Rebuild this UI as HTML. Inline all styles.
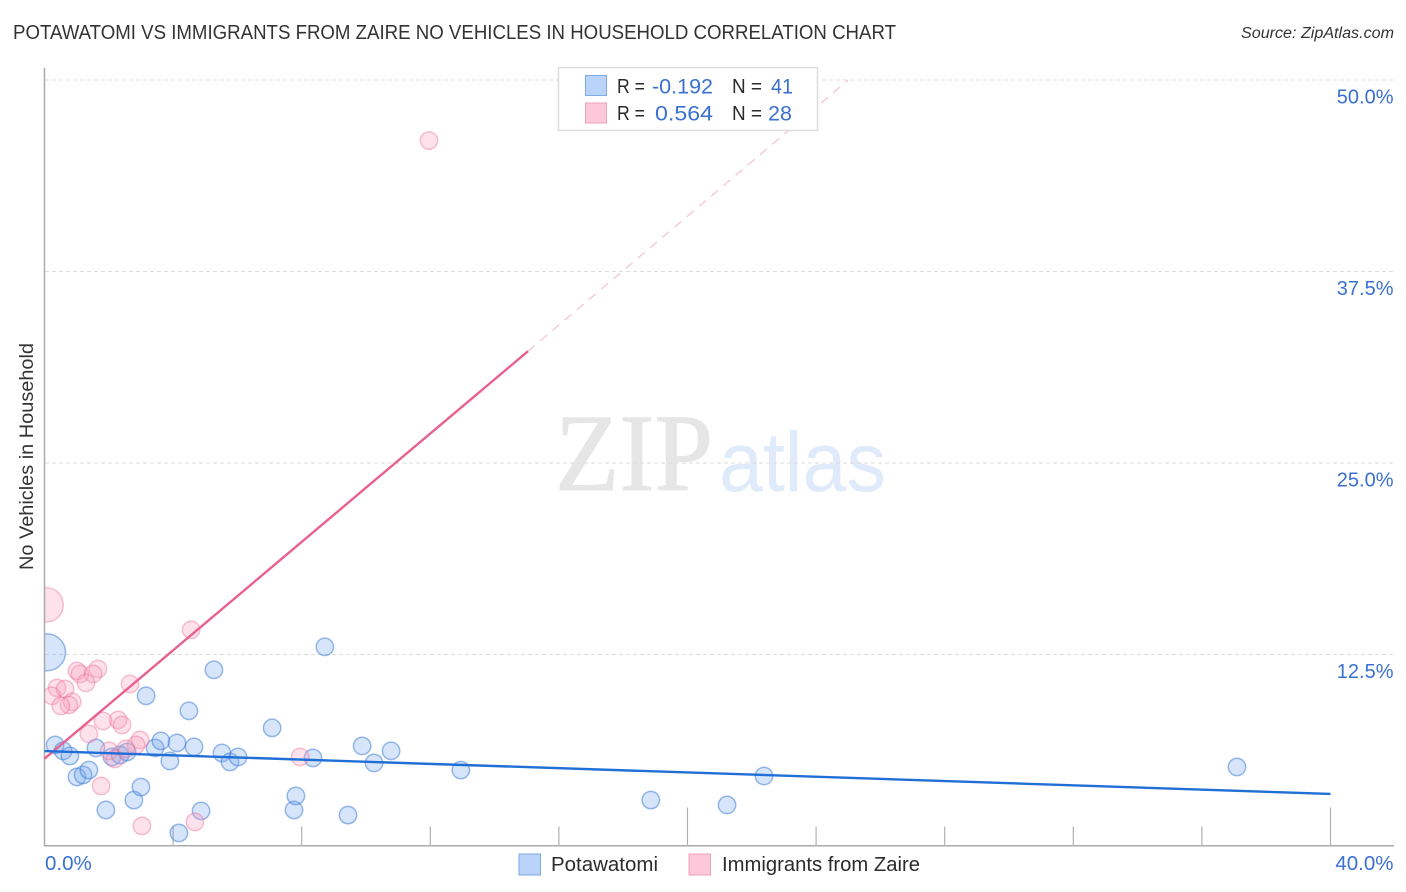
<!DOCTYPE html>
<html>
<head>
<meta charset="utf-8">
<style>
html,body{margin:0;padding:0;background:#fff;width:1406px;height:892px;overflow:hidden}
svg{display:block;font-family:"Liberation Sans",sans-serif}
</style>
</head>
<body>
<svg id="chart" width="1406" height="892" viewBox="0 0 1406 892">
  <defs><clipPath id="plot-clip"><rect x="45" y="60" width="1350" height="786"/></clipPath></defs>
  <text x="13" y="39" font-size="20" fill="#333333" textLength="883" lengthAdjust="spacingAndGlyphs">POTAWATOMI VS IMMIGRANTS FROM ZAIRE NO VEHICLES IN HOUSEHOLD CORRELATION CHART</text>
  <text x="1394" y="38" font-size="15.5" font-style="italic" fill="#333" text-anchor="end" textLength="153" lengthAdjust="spacingAndGlyphs">Source: ZipAtlas.com</text>
  <g>
    <text x="555" y="490" font-family="'Liberation Serif',serif" font-size="110" fill="#e6e6e6" stroke="#e6e6e6" stroke-width="1" textLength="158" lengthAdjust="spacingAndGlyphs">ZIP</text>
    <text x="719" y="491" font-size="84" fill="#dfeafa" textLength="167" lengthAdjust="spacingAndGlyphs">atlas</text>
  </g>
  <g id="grid"></g>
  <g id="axes"></g>
  <g id="points" clip-path="url(#plot-clip)"></g>
  <g id="trends"></g>
  <text transform="translate(33,456.5) rotate(-90)" font-size="19" fill="#333333" text-anchor="middle" textLength="227" lengthAdjust="spacingAndGlyphs">No Vehicles in Household</text>

  <g>
    <rect x="558.5" y="67.5" width="259" height="63" fill="#fff" stroke="#dddddd" stroke-width="1.5"/>
    <rect x="585.5" y="75.5" width="21" height="20" fill="#b9d4f8" stroke="#7fa9e4"/>
    <rect x="585.5" y="103" width="21" height="20" fill="#fcc8da" stroke="#f0a0bb"/>
    <g font-size="20" fill="#2b2b2b">
      <text x="617" y="93" textLength="28" lengthAdjust="spacingAndGlyphs">R =</text>
      <text x="617" y="120" textLength="28" lengthAdjust="spacingAndGlyphs">R =</text>
      <text x="732" y="93" textLength="30" lengthAdjust="spacingAndGlyphs">N =</text>
      <text x="732" y="120" textLength="30" lengthAdjust="spacingAndGlyphs">N =</text>
    </g>
    <g font-size="21.5" fill="#3a71d0">
      <text x="713" y="93.5" text-anchor="end" textLength="61" lengthAdjust="spacingAndGlyphs">-0.192</text>
      <text x="713" y="120.5" text-anchor="end" textLength="58" lengthAdjust="spacingAndGlyphs">0.564</text>
      <text x="793" y="93.5" text-anchor="end" textLength="22" lengthAdjust="spacingAndGlyphs">41</text>
      <text x="792" y="120.5" text-anchor="end" textLength="24" lengthAdjust="spacingAndGlyphs">28</text>
    </g>
  </g>

  <g>
    <g>
      <rect x="519" y="854" width="21.5" height="21" fill="#b9d4f8" stroke="#7fa9e4"/>
      <text x="551" y="871" font-size="20" fill="#2b2b2b" textLength="107" lengthAdjust="spacingAndGlyphs">Potawatomi</text>
    </g>
    <g>
      <rect x="689" y="854" width="21.5" height="21" fill="#fcc8da" stroke="#f0a0bb"/>
      <text x="722" y="871" font-size="20" fill="#2b2b2b" textLength="198" lengthAdjust="spacingAndGlyphs">Immigrants from Zaire</text>
    </g>
  </g>
</svg>
<script>
const yTicks = [12.5, 25, 37.5, 50];
const yTickLabels = ["12.5%", "25.0%", "37.5%", "50.0%"];
const xTicks = [4, 8, 12, 16, 20, 24, 28, 32, 36, 40];
const xTickMajor = [0, 0, 0, 0, 1, 0, 0, 0, 0, 1];
const xEndLabels = ["0.0%", "40.0%"];

const potawatomiX = [0.08,0.33,0.58,0.79,1.01,1.20,1.38,1.60,1.91,2.10,2.35,2.57,2.78,3.00,3.16,3.44,3.62,3.90,4.12,4.18,4.49,4.65,4.87,5.27,5.52,5.77,6.02,7.08,7.76,7.82,8.35,8.72,9.44,9.88,10.25,10.78,12.95,18.86,21.23,22.38,37.09];
const potawatomiY = [12.64,6.60,6.21,5.88,4.51,4.64,4.96,6.40,2.35,5.81,5.94,6.14,3.00,3.85,9.80,6.40,6.86,5.55,6.73,0.85,8.82,6.47,2.29,11.50,6.07,5.49,5.81,7.71,2.35,3.27,5.75,13.00,2.02,6.53,5.42,6.21,4.96,3.00,2.68,4.57,5.16];
const potawatomiWeight = [4.5,1,1,1,1,1,1,1,1,1,1,1,1,1,1,1,1,1,1,1,1,1,1,1,1,1,1,1,1,1,1,1,1,1,1,1,1,1,1,1,1];

const zaireX = [0.05,4.56,1.01,1.10,1.66,1.51,1.29,2.66,0.39,0.64,0.23,0.86,0.76,0.51,2.29,2.41,1.82,1.38,2.97,2.85,2.53,2.01,2.19,1.76,3.03,4.68,7.95,11.96];
const zaireY = [15.74,14.11,11.43,11.23,11.56,11.23,10.65,10.58,10.32,10.25,9.80,9.41,9.21,9.14,8.23,7.90,8.16,7.32,6.92,6.60,6.34,6.21,5.68,3.92,1.31,1.57,5.81,46.05];
const zaireWeight = [3.9,1,1,1,1,1,1,1,1,1,1,1,1,1,1,1,1,1,1,1,1,1,1,1,1,1,1,1];

const potawatomiTrendX = [0, 40];
const potawatomiTrendY = [6.2, 3.4];
const zaireTrendX = [0, 15.04];
const zaireTrendY = [5.7, 32.3];
const zaireProjectionX = [15.04, 25];
const zaireProjectionY = [32.3, 50];

const NS = "http://www.w3.org/2000/svg";
const sx = v => 44.5 + v * 32.15;
const sy = v => 846 - v * 15.32;
function mk(tag, parent, attrs) {
  const el = document.createElementNS(NS, tag);
  for (const k in attrs) el.setAttribute(k, attrs[k]);
  parent.appendChild(el);
  return el;
}
const grid = document.getElementById("grid");
const axes = document.getElementById("axes");
const pts = document.getElementById("points");
const trends = document.getElementById("trends");

yTicks.forEach((t, i) => {
  const line = mk("line", grid, {x1: 45, x2: 1394, y1: sy(t), y2: sy(t), stroke: "#dcdcdc", "stroke-width": 1, "stroke-dasharray": "4 3"});
  
  
  const lab = mk("text", axes, {x: 1393.5, y: sy(t) + 23.5, "text-anchor": "end", "font-size": 20, fill: "#3a71d0"});
  lab.textContent = yTickLabels[i];
  
  
});

const yAxis = mk("line", axes, {x1: 44.5, x2: 44.5, y1: 68, y2: 846.5, stroke: "#aaaaaa", "stroke-width": 1.5});


const xAxis = mk("line", axes, {x1: 44, x2: 1394, y1: 845.8, y2: 845.8, stroke: "#aaaaaa", "stroke-width": 1.5});



xTicks.forEach((t, i) => {
  const tick = mk("line", axes, {x1: sx(t), x2: sx(t), y1: xTickMajor[i] ? 807.5 : 826.5, y2: 846, stroke: "#b0b0b0", "stroke-width": 1.2});
  
  
});

const xLab0 = mk("text", axes, {x: 45, y: 870, "font-size": 20.5, fill: "#3a71d0"});
xLab0.textContent = xEndLabels[0];


const xLab1 = mk("text", axes, {x: 1393.5, y: 870, "text-anchor": "end", "font-size": 20.5, fill: "#3a71d0"});
xLab1.textContent = xEndLabels[1];



const R = 8.7;
potawatomiX.forEach((x, i) => {
  const c = mk("circle", pts, {cx: sx(x), cy: sy(potawatomiY[i]), r: R * Math.sqrt(potawatomiWeight[i]), fill: "rgba(120,170,235,0.30)", stroke: "rgba(55,120,215,0.50)", "stroke-width": 1.5});
  
  
});
zaireX.forEach((x, i) => {
  const c = mk("circle", pts, {cx: sx(x), cy: sy(zaireY[i]), r: R * Math.sqrt(zaireWeight[i]), fill: "rgba(248,160,190,0.30)", stroke: "rgba(235,110,155,0.42)", "stroke-width": 1.5});
  
  
});

const proj = mk("line", trends, {x1: sx(zaireProjectionX[0]), y1: sy(zaireProjectionY[0]), x2: sx(zaireProjectionX[1]), y2: sy(zaireProjectionY[1]), stroke: "#f4b6cb", "stroke-width": 1, "stroke-dasharray": "9 7"});


const zt = mk("line", trends, {x1: sx(zaireTrendX[0]), y1: sy(zaireTrendY[0]), x2: sx(zaireTrendX[1]), y2: sy(zaireTrendY[1]), stroke: "#e8618f", "stroke-width": 2.4});


const bt = mk("line", trends, {x1: sx(potawatomiTrendX[0]), y1: sy(potawatomiTrendY[0]), x2: sx(potawatomiTrendX[1]), y2: sy(potawatomiTrendY[1]), stroke: "#1f6fd6", "stroke-width": 2.4});


</script>
</body>
</html>
